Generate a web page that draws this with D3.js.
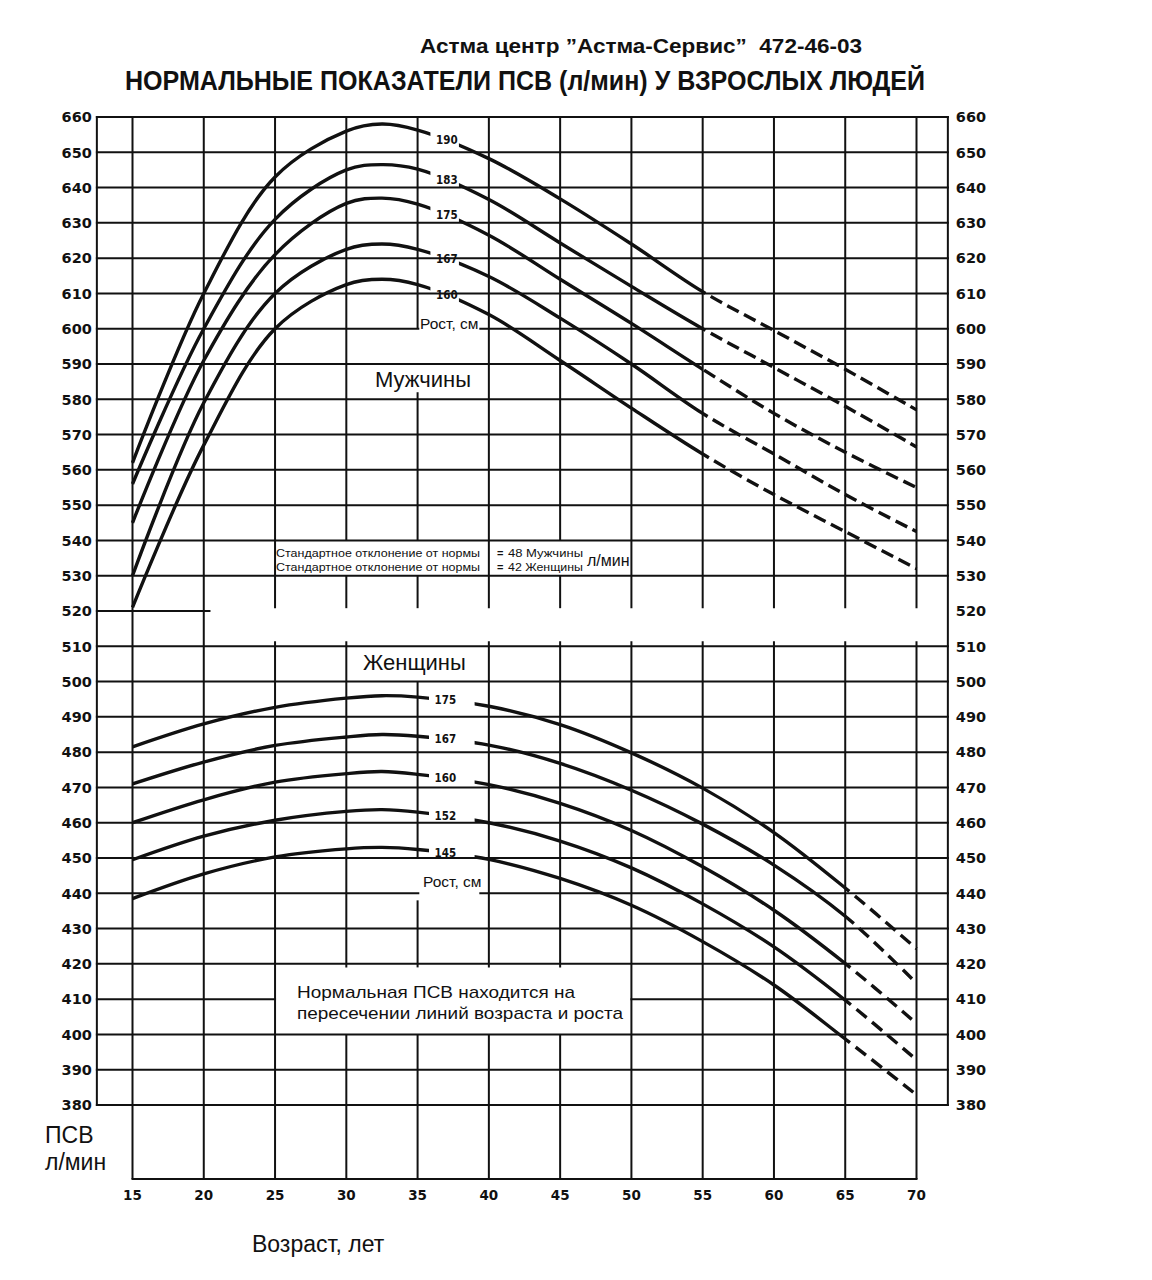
<!DOCTYPE html>
<html><head><meta charset="utf-8">
<script src="https://cdn.jsdelivr.net/npm/d3@7"></script>
<style>body{margin:0;background:#fff} svg{display:block}</style>
</head><body>
<svg id="chart" width="1152" height="1280"></svg>
<script>
// ---------- data ----------
const ages = [15, 20, 25, 30, 32.5, 35, 40, 45, 50, 55, 60, 65, 70];
const menHeights = ["190", "183", "175", "167", "160"];
const men190 = [562, 610, 643, 656, 658, 656.3, 648.2, 636.8, 624, 610.5, 599.5, 588.5, 577];
const men183 = [556, 600, 631, 645, 646.5, 645.2, 636.6, 624.3, 612, 600, 589, 578, 566.5];
const men175 = [545, 591, 621, 635.5, 637, 635.3, 626.5, 614, 601.5, 588.5, 576, 565, 555];
const men167 = [530, 579, 610, 622.5, 624, 622.5, 614.8, 603, 590, 576, 564.5, 553, 542.5];
const men160 = [521, 567, 600, 612.5, 614, 612.5, 604, 591, 577.5, 564.5, 553, 542.5, 532];
const womenHeights = ["175", "167", "160", "152", "145"];
const women175 = [481.5, 488, 492.7, 495.3, 496, 495.6, 493, 487.8, 479.8, 469.8, 457.2, 441.5, 424.3];
const women167 = [471, 477.2, 481.9, 484.3, 485, 484.5, 482, 476.8, 469.2, 459.6, 448, 433.5, 414.5];
const women160 = [460, 466.5, 471.5, 473.9, 474.5, 473.7, 470.8, 465.5, 457.8, 447.5, 435.2, 420.1, 403.1];
const women152 = [449.5, 456.2, 460.7, 463.2, 463.7, 463, 460, 454.8, 447.2, 437, 424.8, 409.7, 392.8];
const women145 = [438.5, 445.5, 450.3, 452.6, 453, 452.4, 449.6, 444.2, 436.6, 426.3, 414, 398.7, 382.9];
const xTicks = [15, 20, 25, 30, 35, 40, 45, 50, 55, 60, 65, 70];
const yTicks = [660, 650, 640, 630, 620, 610, 600, 590, 580, 570, 560, 550, 540, 530, 520, 510,
                500, 490, 480, 470, 460, 450, 440, 430, 420, 410, 400, 390, 380];
const title1 = "Астма центр ”Астма-Сервис”  472-46-03";
const title2 = "НОРМАЛЬНЫЕ ПОКАЗАТЕЛИ ПСВ (л/мин) У ВЗРОСЛЫХ ЛЮДЕЙ";

// ---------- scales ----------
const svg = d3.select("#chart");
const x = d3.scaleLinear().domain([15, 70]).range([132.5, 916.5]);
const y = d3.scaleLinear().domain([380, 660]).range([1105, 117]);
const AGE_L = 12.5, AGE_R = 72.2, V_BOTTOM = 359;
const INK = "#111";
const NUM_FONT = "'DejaVu Sans', sans-serif";
const TXT_FONT = "'Liberation Sans', Arial, sans-serif";
const NARROW = "'Liberation Sans Narrow', 'Liberation Sans', Arial, sans-serif";

// ---------- titles ----------
svg.append("text").attr("x", 641).attr("y", 53).attr("text-anchor", "middle")
  .attr("font-family", NARROW).attr("font-weight", "bold").attr("font-size", 21)
  .attr("textLength", 442).attr("lengthAdjust", "spacingAndGlyphs")
  .style("white-space", "pre").attr("fill", INK).text(title1);
svg.append("text").attr("x", 525).attr("y", 90).attr("text-anchor", "middle")
  .attr("font-family", NARROW).attr("font-weight", "bold").attr("font-size", 27)
  .attr("textLength", 800).attr("lengthAdjust", "spacingAndGlyphs")
  .attr("fill", INK).text(title2);

// ---------- grid ----------
function segments(a, b, gaps) {
  let segs = [[a, b]];
  (gaps || []).forEach(g => {
    const lo = Math.min(g[0], g[1]), hi = Math.max(g[0], g[1]);
    const out = [];
    segs.forEach(s => {
      if (hi <= s[0] || lo >= s[1]) { out.push(s); return; }
      if (lo > s[0]) out.push([s[0], lo]);
      if (hi < s[1]) out.push([hi, s[1]]);
    });
    segs = out;
  });
  return segs;
}
const grid = svg.append("g").attr("stroke", INK).attr("stroke-width", 2).attr("fill", "none");
const band = [520.8, 511.4];
const vGaps = {
  25: [band],
  30: [band, [540, 530], [419, 400]],
  35: [[600, 582], [520.8, 500], [450, 438], [540, 530], [419, 400]],
  40: [band, [419, 400]],
  45: [band, [540, 530], [419, 400]],
  50: [band], 55: [band], 60: [band], 65: [band], 70: [band]
};
const hGaps = {
  520: [[20.4, AGE_R]],
  410: [[25, 50]],
  600: [[35.05, 39.4]],
  440: [[35.05, 39.4]]
};
yTicks.forEach(v => {
  segments(AGE_L, AGE_R, hGaps[v]).forEach(s => {
    grid.append("line").attr("x1", x(s[0]) - 1).attr("x2", x(s[1]) + 1)
      .attr("y1", y(v)).attr("y2", y(v));
  });
});
xTicks.forEach(a => {
  segments(V_BOTTOM, 660, vGaps[a]).forEach(s => {
    grid.append("line").attr("x1", x(a)).attr("x2", x(a))
      .attr("y1", y(s[1])).attr("y2", y(s[0]));
  });
});
grid.append("line").attr("x1", x(AGE_L)).attr("x2", x(AGE_L)).attr("y1", y(660) - 1).attr("y2", y(380) + 1);
grid.append("line").attr("x1", x(AGE_R)).attr("x2", x(AGE_R)).attr("y1", y(660) - 1).attr("y2", y(380) + 1);
grid.append("line").attr("x1", x(15) - 1).attr("x2", x(70) + 1).attr("y1", y(V_BOTTOM)).attr("y2", y(V_BOTTOM));

// ---------- tick labels ----------
const tl = svg.append("g").attr("font-family", NUM_FONT).attr("font-weight", "bold")
  .attr("font-size", 14.5).attr("fill", INK);
yTicks.forEach(v => {
  tl.append("text").attr("x", x(AGE_L) - 5).attr("y", y(v)).attr("dy", "0.36em")
    .attr("text-anchor", "end").text(v);
  tl.append("text").attr("x", x(AGE_R) + 8).attr("y", y(v)).attr("dy", "0.36em")
    .attr("text-anchor", "start").text(v);
});
xTicks.forEach(a => {
  tl.append("text").attr("x", x(a)).attr("y", y(V_BOTTOM) + 21).attr("font-size", 13.5)
    .attr("text-anchor", "middle").text(a);
});

svg.append("text").attr("x", 45).attr("y", 1143).attr("font-family", TXT_FONT)
  .attr("font-size", 23).attr("fill", INK).text("ПСВ");
svg.append("text").attr("x", 45).attr("y", 1170).attr("font-family", TXT_FONT)
  .attr("font-size", 23).attr("fill", INK).text("л/мин");
svg.append("text").attr("x", 252).attr("y", 1252).attr("font-family", TXT_FONT)
  .attr("font-size", 23).attr("fill", INK).text("Возраст, лет");

// ---------- clip paths ----------
const defs = svg.append("defs");
function clip(id, ranges) {
  const cp = defs.append("clipPath").attr("id", id);
  ranges.forEach(r => cp.append("rect").attr("x", x(r[0])).attr("y", 0)
    .attr("width", x(r[1]) - x(r[0])).attr("height", 1280));
}
clip("menSolid", [[AGE_L, 35.9], [37.9, 55]]);
clip("menDash", [[55, AGE_R]]);
clip("womenSolid", [[AGE_L, 35.8], [39, 65]]);
clip("womenDash", [[65, AGE_R]]);

const lineGen = d3.line().x(d => x(d[0])).y(d => y(d[1])).curve(d3.curveCatmullRom.alpha(0.5));
function yAtX(node, px) {
  let lo = 0, hi = node.getTotalLength();
  for (let i = 0; i < 40; i++) {
    const mid = (lo + hi) / 2;
    if (node.getPointAtLength(mid).x < px) lo = mid; else hi = mid;
  }
  return node.getPointAtLength((lo + hi) / 2).y;
}

const curves = svg.append("g").attr("fill", "none").attr("stroke", INK)
  .attr("stroke-width", 3.4).attr("stroke-linecap", "butt");
const labels = svg.append("g").attr("font-family", "'DejaVu Sans Condensed', 'DejaVu Sans', sans-serif")
  .attr("font-stretch", "condensed").attr("font-weight", "bold").attr("font-size", 11.5)
  .attr("fill", INK).attr("text-anchor", "middle");

function drawGroup(heights, series, solidId, dashId, labelAge, dash) {
  series.forEach((vals, i) => {
    const pts = ages.map((a, j) => [a, vals[j]]);
    const d = lineGen(pts);
    const p = curves.append("path").attr("d", d).attr("clip-path", `url(#${solidId})`);
    curves.append("path").attr("d", d).attr("clip-path", `url(#${dashId})`)
      .attr("stroke-dasharray", dash);
    const ly = yAtX(p.node(), x(labelAge));
    labels.append("text").attr("x", x(labelAge)).attr("y", ly).attr("dy", "0.36em")
      .text(heights[i]);
  });
}
drawGroup(menHeights, [men190, men183, men175, men167, men160], "menSolid", "menDash", 37.05, "13,6");
drawGroup(womenHeights, [women175, women167, women160, women152, women145], "womenSolid", "womenDash", 36.95, "13,7");

// ---------- annotations ----------
function txt(xp, yp, s, size, opts = {}) {
  const t = svg.append("text").attr("x", xp).attr("y", yp).attr("font-family", opts.font || TXT_FONT)
    .attr("font-size", size).attr("fill", INK).text(s);
  if (opts.weight) t.attr("font-weight", opts.weight);
  if (opts.len) t.attr("textLength", opts.len).attr("lengthAdjust", "spacingAndGlyphs");
  return t;
}
txt(420, y(600), "Рост, см", 15.5);
txt(423, y(441.8), "Рост, см", 15.5);
txt(375, 387, "Мужчины", 22);
txt(363, 670, "Женщины", 22);

txt(276, 557, "Стандартное отклонение от нормы", 11, { len: 204 });
txt(276, 571, "Стандартное отклонение от нормы", 11, { len: 204 });
txt(497, 557, "=", 11, { weight: "bold" });
txt(497, 571, "=", 11, { weight: "bold" });
txt(508, 557, "48 Мужчины", 11.5, { len: 75 });
txt(508, 571, "42 Женщины", 11.5, { len: 75 });
txt(587, 566, "л/мин", 16);

txt(297, 998, "Нормальная ПСВ находится на", 17, { len: 278 });
txt(297, 1019, "пересечении линий возраста и роста", 17, { len: 326 });
</script>
</body></html>
